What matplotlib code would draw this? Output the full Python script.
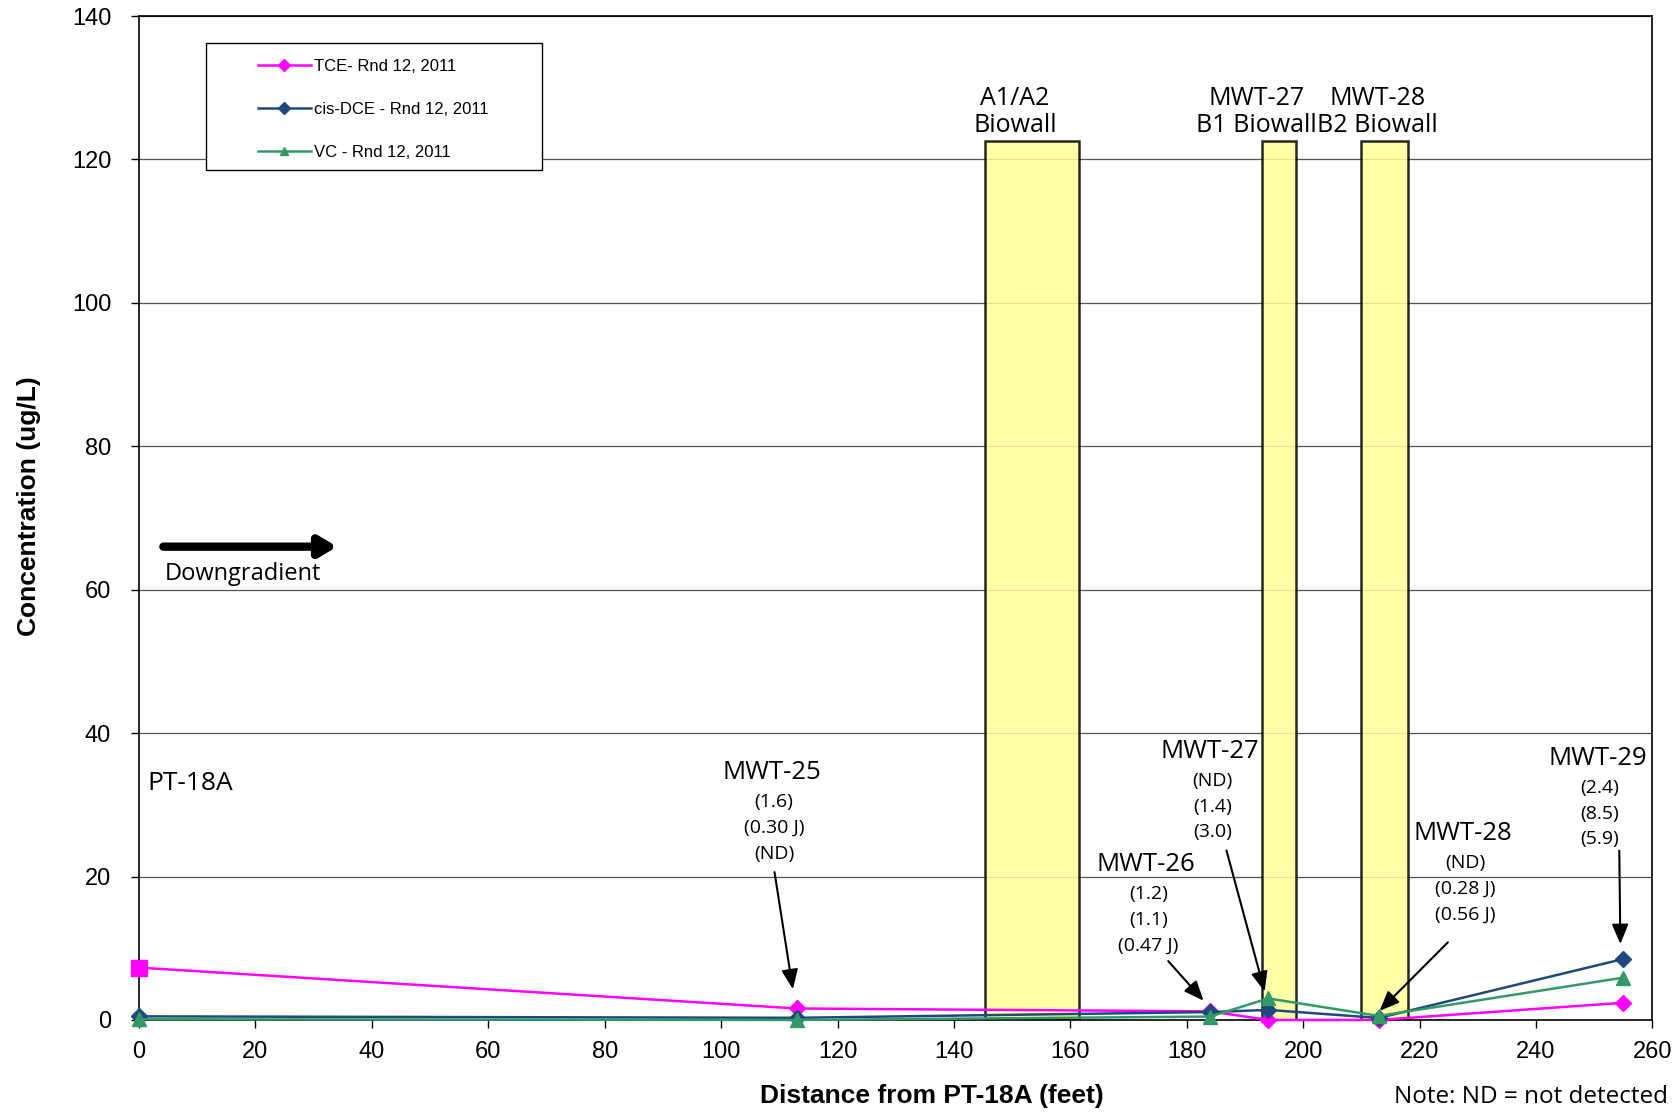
import matplotlib.pyplot as plt
from matplotlib.patches import Rectangle

plt.rcParams['font.family'] = ['Liberation Sans', 'DejaVu Sans']

# distance from PT-18A (feet) for each well
dist = [0, 113, 184, 194, 213, 255]
wells = ['PT-18A', 'MWT-25', 'MWT-26', 'MWT-27', 'MWT-28', 'MWT-29']

# concentrations (ug/L), ND plotted as 0
tce = [7.3, 1.6, 1.2, 0.0, 0.0, 2.4]
cis_dce = [0.5, 0.30, 1.1, 1.4, 0.28, 8.5]
vc = [0.1, 0.0, 0.47, 3.0, 0.56, 5.9]

# biowalls: (start, end, label)
walls = [(145.3, 161.5, 'A1/A2\nBiowall'),
         (192.9, 198.8, 'MWT-27\nB1 Biowall'),
         (209.9, 218.0, 'MWT-28\nB2 Biowall')]
wall_top = 122.6
wall_label_x = [150.5, 192.0, 212.8]

calibri = ['Open Sans', 'DejaVu Sans']

fig = plt.figure(figsize=(16.81, 11.13), dpi=100)
ax = fig.add_axes([0.0827, 0.0836, 0.9003, 0.902])

# grid lines
for y in range(20, 141, 20):
    ax.axhline(y, color='#555555', lw=0.9, zorder=1)

for (x0, x1, lab), lx in zip(walls, wall_label_x):
    ax.add_patch(Rectangle((x0, 0), x1 - x0, wall_top, facecolor='#ffff99',
                           edgecolor='black', lw=1.8, alpha=0.85, zorder=2))
    ax.text(lx, wall_top + 0.4, lab, ha='center', va='bottom', fontsize=18,
            family=calibri, linespacing=1.12)

# TCE: square marker for PT-18A, diamonds elsewhere
ax.plot(dist, tce, color='#ff00ff', lw=1.8, marker='D', ms=8, zorder=4,
        markevery=list(range(1, len(dist))), clip_on=False,
        label='TCE- Rnd 12, 2011')
ax.plot(dist[0], tce[0], color='#ff00ff', marker='s', ms=11, zorder=5,
        clip_on=False)
ax.plot(dist, cis_dce, color='#1f497d', lw=1.8, marker='D', ms=8, zorder=4,
        clip_on=False, label='cis-DCE - Rnd 12, 2011')
ax.plot(dist, vc, color='#339966', lw=1.8, marker='^', ms=10, zorder=4,
        clip_on=False, label='VC - Rnd 12, 2011')

# well annotations: name, values, text position, arrow start, arrow end
notes = [
    ('MWT-25', '(1.6)\n(0.30 J)\n(ND)', 108.7, 34.5, (109.1, 21.0), (112.4, 3.9)),
    ('MWT-26', '(1.2)\n(1.1)\n(0.47 J)', 173.0, 21.7, (176.5, 8.5), (183.2, 2.4)),
    ('MWT-27', '(ND)\n(1.4)\n(3.0)', 184.0, 37.5, (186.7, 24.0), (193.5, 3.6)),
    ('MWT-28', '(ND)\n(0.28 J)\n(0.56 J)', 227.4, 26.0, (225.2, 11.1), (212.8, 1.0)),
    ('MWT-29', '(2.4)\n(8.5)\n(5.9)', 250.6, 36.5, (254.3, 24.0), (254.5, 10.2)),
]
for name, vals, tx, ty, p0, p1 in notes:
    ax.text(tx, ty, name, ha='center', va='center', fontsize=18.5,
            family=calibri, zorder=6)
    ax.text(tx + 0.4, ty - 2.9, vals, ha='center', va='top', fontsize=14,
            family=calibri, linespacing=1.55, zorder=6)
    ax.annotate('', xy=p1, xytext=p0, zorder=6,
                arrowprops=dict(arrowstyle='-|>,head_length=1.2,head_width=0.5',
                                color='black', lw=1.5))

ax.text(1.5, 33, 'PT-18A', ha='left', va='center', fontsize=19,
        family=calibri)
ax.annotate('', xy=(34.5, 66), xytext=(3.7, 66),
            arrowprops=dict(arrowstyle='-|>,head_length=1.0,head_width=0.6',
                            color='black', lw=6))
ax.text(4.5, 62.2, 'Downgradient', ha='left', va='center', fontsize=17,
        family=calibri)

ax.set_xlim(0, 260)
ax.set_ylim(0, 140)
ax.set_xticks(range(0, 261, 20))
ax.set_yticks(range(0, 141, 20))
ax.tick_params(labelsize=17, length=6, direction='out', width=1)
ax.tick_params(axis='x', pad=9)
ax.tick_params(axis='y', pad=14)
ax.set_xlabel('Distance from PT-18A (feet)', fontsize=19, fontweight='bold',
              labelpad=15)
ax.set_ylabel('Concentration (ug/L)', fontsize=19, fontweight='bold',
              labelpad=22)
# the labels sit a little off-centre in the original
ax.xaxis.label.set_x(0.524)
ax.yaxis.label.set_y(0.512)
for s in ax.spines.values():
    s.set_linewidth(1.2)

# legend box drawn by hand to match the wide frame
ax.add_patch(Rectangle((0.0443, 0.8466), 0.222, 0.1264, transform=ax.transAxes,
                       facecolor='white', edgecolor='black', lw=1.0, zorder=7))
leg = ax.legend(loc='upper left', bbox_to_anchor=(0.0787, 0.957), fontsize=12,
                frameon=False, labelspacing=1.68, borderpad=0,
                handlelength=3.15, handletextpad=0.2, borderaxespad=0)
for h in leg.legend_handles:
    h.set_markersize(6)
leg.set_zorder(8)

fig.text(0.9925, 0.004, 'Note: ND = not detected', ha='right', va='bottom',
         fontsize=17.5, family=calibri)

plt.savefig('out.png', dpi=100)
